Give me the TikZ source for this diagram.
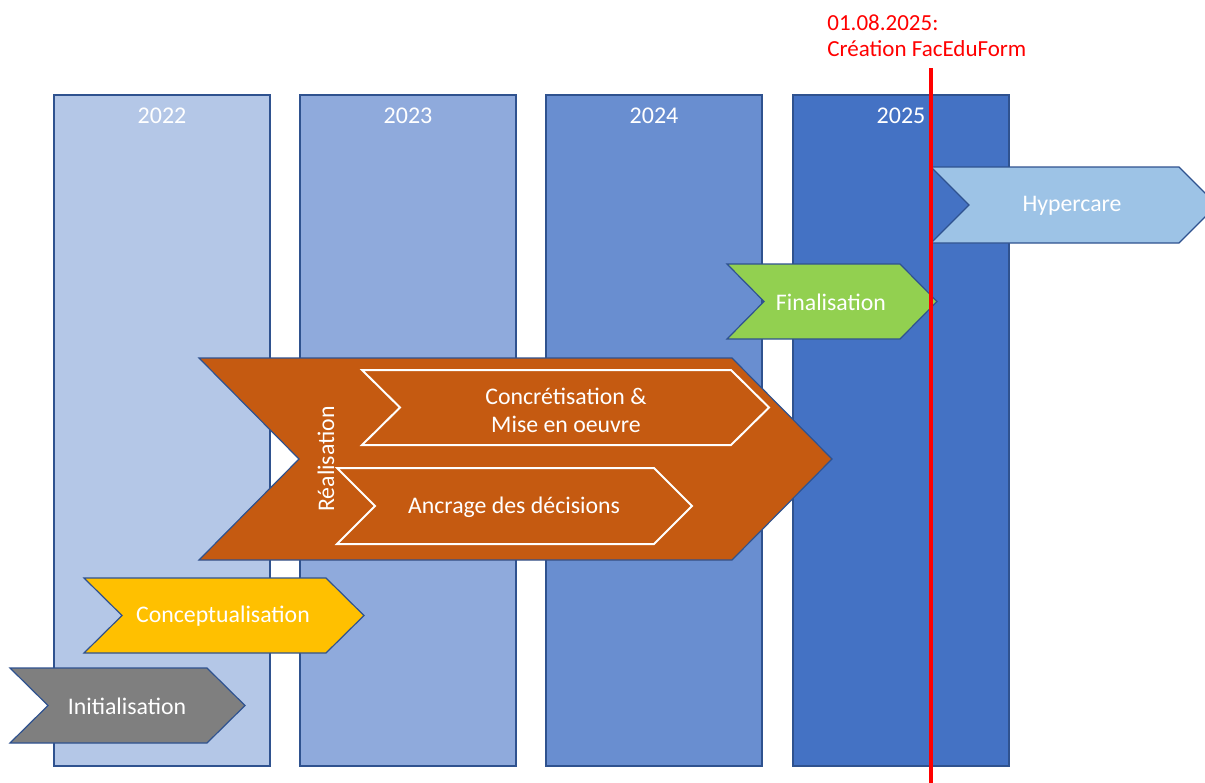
\documentclass[tikz,border=0pt]{standalone}
\usepackage{fontspec}
\setmainfont{Carlito}
\usetikzlibrary{positioning}

\definecolor{colborder}{HTML}{2F528F}
\definecolor{col22}{HTML}{B4C7E7}
\definecolor{col23}{HTML}{8FAADC}
\definecolor{col24}{HTML}{698ED0}
\definecolor{col25}{HTML}{4472C4}
\definecolor{colinit}{HTML}{7F7F7F}
\definecolor{colconcept}{HTML}{FFC000}
\definecolor{colreal}{HTML}{C55A11}
\definecolor{colfinal}{HTML}{92D050}
\definecolor{colhyper}{HTML}{9DC3E6}
\definecolor{colcut}{HTML}{FF0000}

\tikzset{
  yearcol/.style={draw=colborder, line width=0.6pt, minimum width=108pt,
    minimum height=335.5pt, inner sep=0pt},
  yearlbl/.style={text=white, font=\fontsize{12}{14}\selectfont},
  phase/.style={draw=colborder, line width=0.6pt},
  subphase/.style={draw=white, line width=1pt, fill=colreal},
  phaselbl/.style={text=white, align=center, font=\fontsize{11.9}{14}\selectfont},
  cutlbl/.style={text=colcut, align=left, font=\fontsize{11.5}{13}\selectfont}
}

% chevron: [style]{left}{top}{shoulder}{bottom}{depth}
\newcommand{\chevron}[6][]{%
  \draw[phase,#1] (#2,#3) -- (#4,#3) -- ({#4+#6},{(#3+#5)/2}) -- (#4,#5)
    -- (#2,#5) -- ({#2+#6},{(#3+#5)/2}) -- cycle;}

\begin{document}
\begin{tikzpicture}[x=0.5pt, y=-0.5pt]
    \useasboundingbox (0,0) rectangle (1205,782);

    % years
    \foreach \yr/\cx/\cc in {2022/162/col22, 2023/408/col23,
                             2024/654/col24, 2025/901/col25} {
        \node[yearcol, fill=\cc] (y\yr) at (\cx,430.5) {};
        \node[yearlbl] (y\yr lbl) at ([yshift=-10.5pt]y\yr.north) {\yr};
    }

    % phases
    \chevron[fill=colinit]{10}{668}{207}{743}{38}
    \node[phaselbl] (init) at (127,706) {Initialisation};

    \chevron[fill=colconcept]{84}{578}{326}{653}{38}
    \node[phaselbl] (concept) at (223,616) {Conceptualisation};

    \chevron[fill=colreal]{199}{358}{732}{560}{100}
    \node[phaselbl, rotate=90] (real) at (326,459) {Réalisation};
    \chevron[subphase]{362}{370}{731}{445}{38}
    \node[phaselbl] (concret) at (566,410) {Concrétisation \&\\Mise en oeuvre};
    \chevron[subphase]{337}{468}{654}{544}{38}
    \node[phaselbl] (ancrage) at (514,507) {Ancrage des décisions};

    \chevron[fill=colfinal]{727}{264}{900}{339}{37}
    \node[phaselbl] (final) at (831,302) {Finalisation};

    \chevron[fill=colhyper]{931}{167}{1179}{243}{38}
    \node[phaselbl] (hyper) at (1072,206) {Hypercare};

    % cut-over date
    \coordinate (cut top) at (931,68);
    \coordinate (cut bottom) at (931,790);
    \draw[colcut, line width=2.3pt] (cut top) -- (cut bottom);
    \node[cutlbl, anchor=west, inner sep=0pt] (cut) at (827,36)
        {01.08.2025:\\Création FacEduForm};
\end{tikzpicture}
\end{document}
